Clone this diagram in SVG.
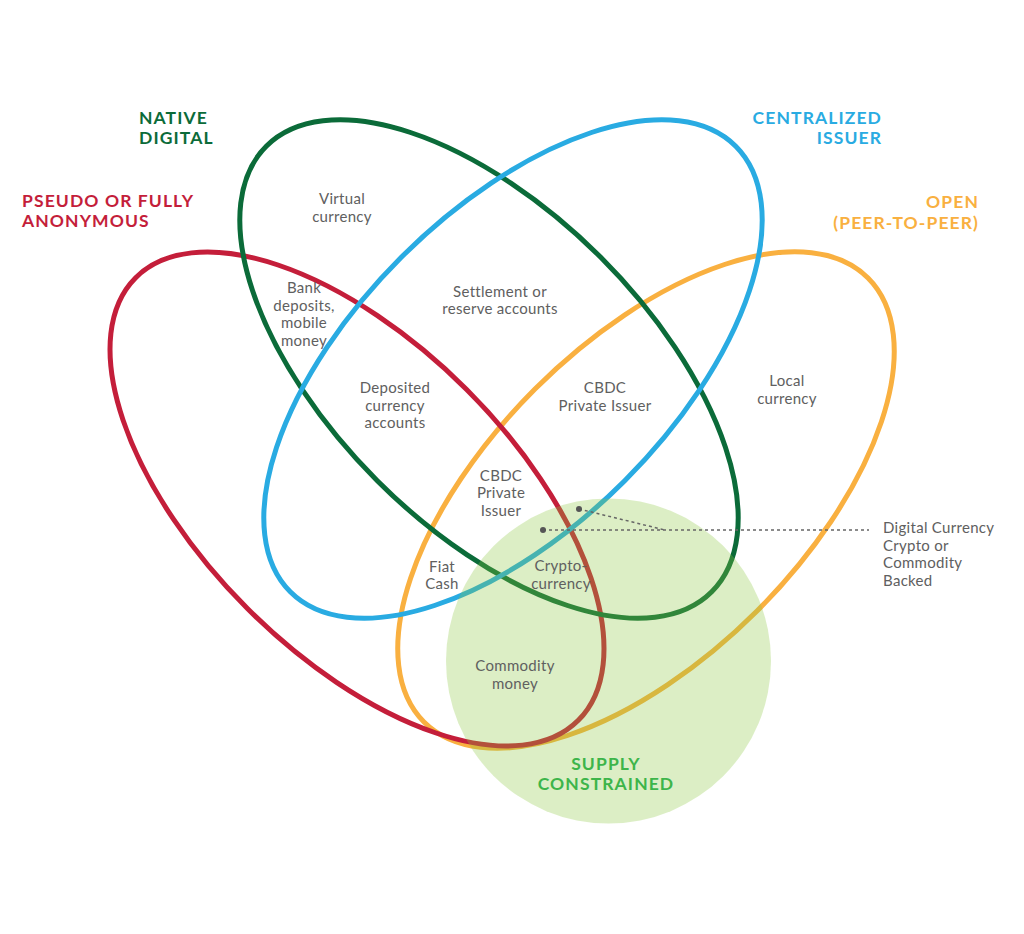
<svg xmlns="http://www.w3.org/2000/svg" width="1024" height="934" viewBox="0 0 1024 934">
<style>
.ring{fill:none;stroke-width:5}
.t{font-family:Lato,"Open Sans","Liberation Sans",sans-serif;font-size:15px;fill:#606060;text-anchor:middle;letter-spacing:0.3px}
.s{text-anchor:start}
.h{font-family:Lato,"Open Sans","Liberation Sans",sans-serif;font-size:17.5px;font-weight:bold;letter-spacing:1.1px}
.lead{stroke:#666;stroke-width:1.5;stroke-dasharray:3 3;fill:none}
</style>
<rect width="1024" height="934" fill="#fff"/>
<g id="open">
<ellipse class="ring" stroke="#f9b040" cx="0" cy="0" rx="314" ry="157" transform="translate(646 500) rotate(-45)"/>
<text class="h" fill="#f9b040" text-anchor="end" x="979" y="208">OPEN</text>
<text class="h" fill="#f9b040" text-anchor="end" x="979" y="229">(PEER-TO-PEER)</text>
</g>
<g id="anonymous">
<ellipse class="ring" stroke="#c41e3a" cx="0" cy="0" rx="313" ry="155" transform="translate(357 499) rotate(45)"/>
<text class="h" fill="#c41e3a" x="22" y="207">PSEUDO OR FULLY</text>
<text class="h" fill="#c41e3a" x="22" y="227">ANONYMOUS</text>
</g>
<g id="native-digital">
<ellipse class="ring" stroke="#0b6b39" cx="0" cy="0" rx="315" ry="158" transform="translate(489 369) rotate(45)"/>
<text class="h" fill="#0b6b39" x="139" y="124">NATIVE</text>
<text class="h" fill="#0b6b39" x="139" y="144">DIGITAL</text>
</g>
<g id="centralized-issuer">
<ellipse class="ring" stroke="#29abe2" cx="0" cy="0" rx="315" ry="158" transform="translate(513 369) rotate(-45)"/>
<text class="h" fill="#29abe2" text-anchor="end" x="882" y="124">CENTRALIZED</text>
<text class="h" fill="#29abe2" text-anchor="end" x="882" y="144">ISSUER</text>
</g>
<g id="supply-constrained">
<circle cx="608.5" cy="661" r="162.5" fill="#8cc63f" fill-opacity="0.3"/>
<text class="h" fill="#3db54a" text-anchor="middle" x="606" y="770">SUPPLY</text>
<text class="h" fill="#3db54a" text-anchor="middle" x="606" y="790">CONSTRAINED</text>
</g>
<g id="region-labels">
<text class="t" x="342" y="204">Virtual</text>
<text class="t" x="342" y="222">currency</text>
<text class="t" x="304" y="293">Bank</text>
<text class="t" x="304" y="311">deposits,</text>
<text class="t" x="304" y="328">mobile</text>
<text class="t" x="304" y="346">money</text>
<text class="t" x="500" y="297">Settlement or</text>
<text class="t" x="500" y="314">reserve accounts</text>
<text class="t" x="395" y="393">Deposited</text>
<text class="t" x="395" y="411">currency</text>
<text class="t" x="395" y="428">accounts</text>
<text class="t" x="605" y="393">CBDC</text>
<text class="t" x="605" y="411">Private Issuer</text>
<text class="t" x="787" y="386">Local</text>
<text class="t" x="787" y="404">currency</text>
<text class="t" x="501" y="481">CBDC</text>
<text class="t" x="501" y="498">Private</text>
<text class="t" x="501" y="516">Issuer</text>
<text class="t" x="442" y="572">Fiat</text>
<text class="t" x="442" y="589">Cash</text>
<text class="t" x="561" y="571">Crypto-</text>
<text class="t" x="561" y="589">currency</text>
<text class="t" x="515" y="671">Commodity</text>
<text class="t" x="515" y="689">money</text>
</g>
<g id="callout">
<text class="t s" x="883" y="533">Digital Currency</text>
<text class="t s" x="883" y="551">Crypto or</text>
<text class="t s" x="883" y="568">Commodity</text>
<text class="t s" x="883" y="586">Backed</text>
</g>
<g id="connectors">
<path class="lead" d="M543 530 H869"/>
<path class="lead" d="M579 509 L665 530"/>
<circle cx="543" cy="530" r="3" fill="#555"/>
<circle cx="579" cy="509" r="3" fill="#555"/>
</g>
</svg>
